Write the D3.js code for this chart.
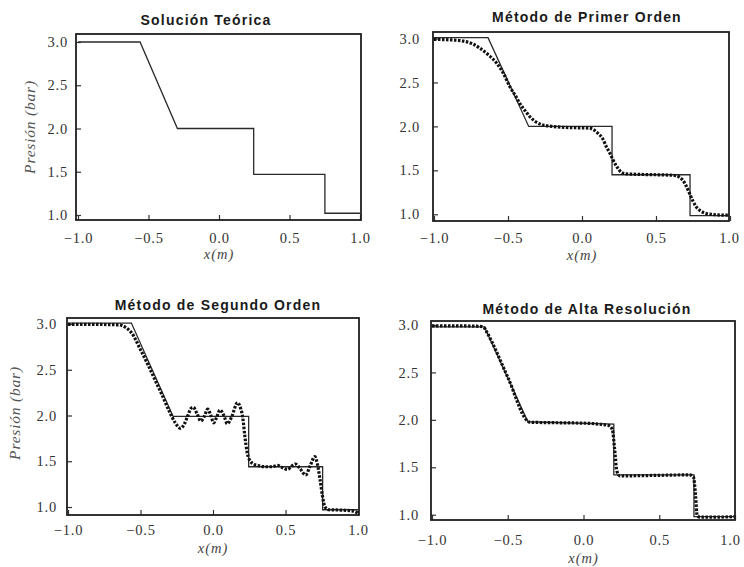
<!DOCTYPE html>
<html>
<head>
<meta charset="utf-8">
<script src="https://cdn.jsdelivr.net/npm/d3@7"></script>
<style>
  html, body { margin: 0; padding: 0; background: #fff; }
  svg { display: block; }
</style>
</head>
<body>
<svg id="chart" width="744" height="567"></svg>
<script>
// ---------- data ----------
const xTickValues = [-1.0, -0.5, 0.0, 0.5, 1.0];
const yTickValues = [1.0, 1.5, 2.0, 2.5, 3.0];
const panelTitles = ["Solución Teórica", "Método de Primer Orden", "Método de Segundo Orden", "Método de Alta Resolución"];
const xAxisLabel = "x(m)";
const yAxisLabel = "Presión (bar)";

// Panel 1 – exact solution
const exact1X = [-1.0, -0.56, -0.295, 0.246, 0.246, 0.751, 0.751, 1.0];
const exact1Y = [3.0, 3.0, 2.0, 2.0, 1.47, 1.47, 1.02, 1.02];

// Panel 2 – first order
const exact2X = [-1.0, -0.635, -0.36, 0.203, 0.203, 0.73, 0.73, 1.0];
const exact2Y = [3.01, 3.01, 2.0, 2.0, 1.45, 1.45, 0.985, 0.985];
const num2X = [-1.0, -0.9, -0.8, -0.74, -0.69, -0.63, -0.577, -0.53, -0.487, -0.45, -0.42, -0.38, -0.352, -0.31, -0.263, -0.2, -0.13, -0.05, 0.05, 0.08, 0.108, 0.14, 0.164, 0.19, 0.209, 0.24, 0.265, 0.3, 0.367, 0.5, 0.6, 0.636, 0.66, 0.68, 0.705, 0.726, 0.75, 0.77, 0.8, 0.838, 0.9, 0.973, 1.0];
const num2Y = [2.99, 2.985, 2.97, 2.94, 2.89, 2.81, 2.72, 2.6, 2.45, 2.35, 2.26, 2.17, 2.11, 2.05, 2.015, 2.0, 1.99, 1.985, 1.98, 1.96, 1.92, 1.86, 1.77, 1.69, 1.62, 1.53, 1.48, 1.46, 1.455, 1.45, 1.445, 1.44, 1.42, 1.39, 1.32, 1.24, 1.15, 1.09, 1.04, 1.01, 0.995, 0.99, 0.99];

// Panel 3 – second order
const exact3X = [-1.0, -0.563, -0.275, 0.246, 0.246, 0.756, 0.756, 1.0];
const exact3Y = [3.01, 3.01, 1.99, 1.99, 1.44, 1.44, 0.97, 0.97];
const num3X = [-1.0, -0.8, -0.65, -0.6, -0.56, -0.5, -0.45, -0.4, -0.35, -0.3, -0.26, -0.225, -0.2, -0.178, -0.15, -0.136, -0.11, -0.085, -0.06, -0.037, -0.015, 0.005, 0.025, 0.049, 0.075, 0.099, 0.13, 0.169, 0.19, 0.205, 0.22, 0.235, 0.25, 0.28, 0.32, 0.361, 0.41, 0.444, 0.48, 0.514, 0.545, 0.568, 0.6, 0.639, 0.67, 0.702, 0.72, 0.74, 0.755, 0.772, 0.8, 0.9, 0.97, 1.0];
const num3Y = [2.995, 2.995, 2.99, 2.96, 2.9, 2.72, 2.56, 2.39, 2.22, 2.04, 1.92, 1.86, 1.9, 1.98, 2.08, 2.09, 2.02, 1.94, 1.99, 2.07, 2.0, 1.92, 1.98, 2.06, 2.0, 1.91, 1.99, 2.14, 2.08, 1.98, 1.77, 1.6, 1.52, 1.47, 1.45, 1.44, 1.44, 1.455, 1.43, 1.41, 1.45, 1.47, 1.42, 1.35, 1.45, 1.55, 1.47, 1.28, 1.12, 1.0, 0.97, 0.965, 0.955, 0.93];

// Panel 4 – high resolution
const exact4X = [-1.0, -0.654, -0.367, 0.2, 0.2, 0.729, 0.729, 1.0];
const exact4Y = [2.98, 2.98, 1.98, 1.955, 1.42, 1.42, 0.98, 0.98];
const num4X = [-1.0, -0.8, -0.68, -0.655, -0.64, -0.5, -0.37, -0.355, -0.2, 0.0, 0.1, 0.165, 0.19, 0.205, 0.22, 0.24, 0.3, 0.5, 0.7, 0.725, 0.74, 0.75, 0.77, 0.9, 1.0];
const num4Y = [2.99, 2.99, 2.985, 2.97, 2.93, 2.45, 1.99, 1.975, 1.97, 1.965, 1.955, 1.94, 1.9, 1.7, 1.46, 1.41, 1.41, 1.415, 1.42, 1.40, 1.2, 0.99, 0.975, 0.975, 0.98];

// ---------- layout (pixels) ----------
const panels = [
  { title: panelTitles[0], exX: exact1X, exY: exact1Y, nX: null, nY: null,
    box: [76, 361, 34, 220], xr: [78, 360], yr: [215, 42],
    titleX: 206, titleY: 20, xPad: 13, yPad: 8, xlabY: 255, ylab: [30, 127], lastShift: 0 },
  { title: panelTitles[1], exX: exact2X, exY: exact2Y, nX: num2X, nY: num2Y,
    box: [433, 729, 32, 221], xr: [434, 730], yr: [214.3, 38.5],
    titleX: 587, titleY: 17, xPad: 12, yPad: 13, xlabY: 256, ylab: null, lastShift: -1 },
  { title: panelTitles[2], exX: exact3X, exY: exact3Y, nX: num3X, nY: num3Y,
    box: [67, 359, 318, 515], xr: [68, 358], yr: [507, 324],
    titleX: 218, titleY: 305, xPad: 10, yPad: 10, xlabY: 549, ylab: [15, 413], lastShift: 0 },
  { title: panelTitles[3], exX: exact4X, exY: exact4Y, nX: num4X, nY: num4Y,
    box: [431, 735, 321, 520], xr: [432, 735], yr: [514.7, 325],
    titleX: 587, titleY: 309, xPad: 15, yPad: 12, xlabY: 559, ylab: null, lastShift: -5 }
];

const svg = d3.select("#chart");
const fmt = d3.format(".1f");

panels.forEach((p, i) => {
  const [L, R, T, B] = p.box;
  const x = d3.scaleLinear().domain([-1, 1]).range(p.xr);
  const y = d3.scaleLinear().domain([1, 3]).range(p.yr);
  const g = svg.append("g");

  const clipId = "clip" + i;
  svg.append("clipPath").attr("id", clipId)
    .append("rect").attr("x", L).attr("y", T).attr("width", R - L).attr("height", B - T);

  // axes (ticks inward)
  const xAxis = d3.axisBottom(x).tickValues(xTickValues).tickFormat(fmt)
    .tickSizeInner(-5).tickSizeOuter(0).tickPadding(p.xPad);
  const gx = g.append("g").attr("transform", `translate(0,${B})`).call(xAxis);
  const yAxis = d3.axisLeft(y).tickValues(yTickValues).tickFormat(fmt)
    .tickSizeInner(-5).tickSizeOuter(0).tickPadding(p.yPad);
  const gy = g.append("g").attr("transform", `translate(${L},0)`).call(yAxis);
  [gx, gy].forEach(a => {
    a.select(".domain").remove();
    a.selectAll(".tick line").attr("stroke", "#333").attr("stroke-width", 1.2);
    a.selectAll(".tick text")
      .attr("fill", "#333")
      .style("font-family", "'Liberation Serif', 'DejaVu Serif', serif")
      .style("font-size", "14.5px")
      .style("letter-spacing", "0.8px");
  });
  gx.selectAll(".tick text").filter(d => d === 1.0).attr("dx", p.lastShift);

  const line = d3.line().x(d => x(d[0])).y(d => y(d[1]));

  // exact solution (solid)
  const exData = p.exX.map((v, k) => [v, p.exY[k]]);
  g.append("path").datum(exData)
    .attr("clip-path", `url(#${clipId})`)
    .attr("d", line).attr("fill", "none")
    .attr("stroke", "#2a2a2a").attr("stroke-width", 1.3);

  // numerical solution (dotted)
  if (p.nX) {
    const nData = p.nX.map((v, k) => [v, p.nY[k]]);
    const cl = d3.line().curve(d3.curveMonotoneX).x(d => x(d[0])).y(d => y(d[1]));
    g.append("path").datum(nData)
      .attr("clip-path", `url(#${clipId})`)
      .attr("d", cl).attr("fill", "none")
      .attr("stroke", "#111").attr("stroke-width", 3.2)
      .attr("stroke-dasharray", "2.5,1.5");
  }

  // frame
  g.append("rect").attr("x", L).attr("y", T).attr("width", R - L).attr("height", B - T)
    .attr("fill", "none").attr("stroke", "#1e1e1e").attr("stroke-width", 1.8);

  // title
  g.append("text").attr("x", p.titleX).attr("y", p.titleY + 5)
    .attr("text-anchor", "middle")
    .style("font-family", "'Liberation Sans', Arial, sans-serif")
    .style("font-weight", "bold").style("font-size", "14px")
    .style("letter-spacing", "1.2px").attr("fill", "#1a1a1a")
    .text(p.title);

  // x label
  g.append("text").attr("x", x(0)).attr("y", p.xlabY + 4)
    .attr("text-anchor", "middle")
    .style("font-family", "'Liberation Serif', 'DejaVu Serif', serif")
    .style("font-style", "italic").style("font-size", "14.5px")
    .style("letter-spacing", "1px").attr("fill", "#444")
    .text(xAxisLabel);

  // y label
  if (p.ylab) {
    g.append("text")
      .attr("transform", `translate(${p.ylab[0] + 5},${p.ylab[1]}) rotate(-90)`)
      .attr("text-anchor", "middle")
      .style("font-family", "'Liberation Serif', 'DejaVu Serif', serif")
      .style("font-style", "italic").style("font-size", "15.5px")
      .style("letter-spacing", "0.8px").attr("fill", "#555")
      .text(yAxisLabel);
  }
});
</script>
</body>
</html>
